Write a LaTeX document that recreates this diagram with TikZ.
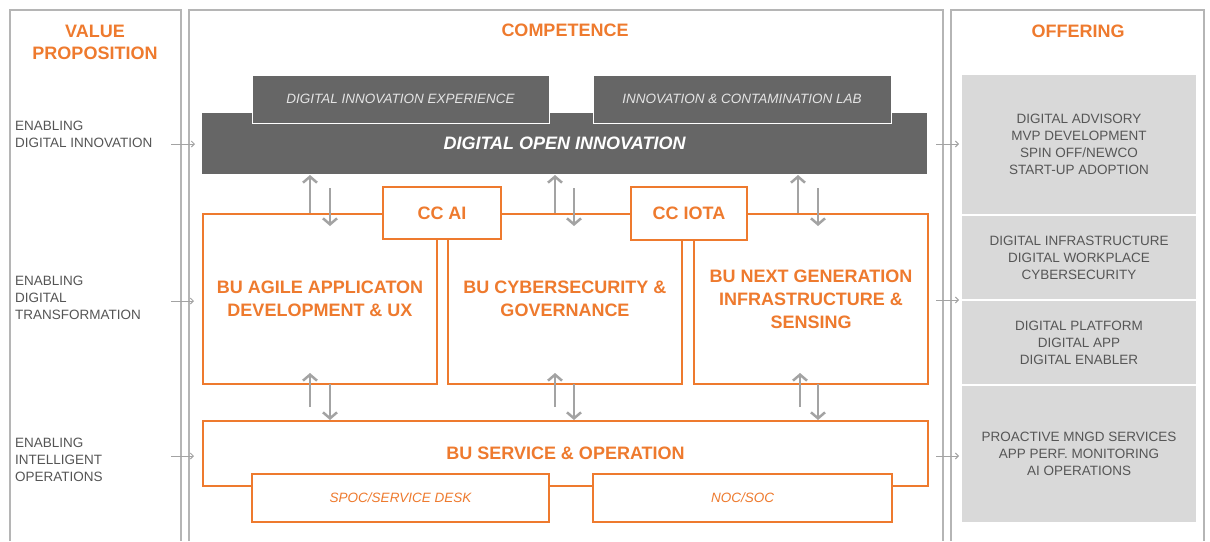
\documentclass[tikz,border=0pt]{standalone}
\usepackage{fontspec}
\setmainfont{Liberation Sans}
\usetikzlibrary{arrows.meta}
\definecolor{orng}{HTML}{EE7A2E}
\definecolor{panelgray}{HTML}{B5B5B5}
\definecolor{dkbox}{HTML}{666666}
\definecolor{dktxt}{HTML}{E4E4E4}
\definecolor{lbltxt}{HTML}{555555}
\definecolor{offfill}{HTML}{D9D9D9}
\definecolor{offtxt}{HTML}{565656}
\definecolor{arrgray}{HTML}{A3A3A3}
\tikzset{
  panel/.style={draw=panelgray, line width=1.2pt},
  ttl/.style={text=orng, font=\fontsize{18}{22}\selectfont\bfseries, align=center},
  lbl/.style={text=lbltxt, font=\fontsize{13.5}{17}\selectfont, align=left, anchor=west, inner sep=0pt},
  darkbox/.style={fill=dkbox, draw=white, line width=1pt, inner sep=0pt, text=dktxt, font=\fontsize{13.5}{16}\selectfont\itshape},
  bubox/.style={draw=orng, line width=2pt, fill=white, inner sep=0pt, text=orng, font=\fontsize{18}{23}\selectfont\bfseries, align=center},
  subbox/.style={draw=orng, line width=1.1pt, fill=white, inner sep=0pt, text=orng, font=\fontsize{13.5}{16}\selectfont\itshape},
  offer/.style={fill=offfill, inner sep=0pt, text=offtxt, font=\fontsize{13.5}{17}\selectfont, align=center, minimum width=234pt},
  varr/.style={draw=arrgray, line width=2.5pt, -{Straight Barb[length=6pt,width=14pt]}},
  harr/.style={draw=arrgray, line width=1pt, -{Straight Barb[length=3pt,width=6pt]}}
}
\begin{document}
\begin{tikzpicture}[x=1pt,y=-1pt]
\useasboundingbox (0,0) rectangle (1210,541);

% panels
\draw[panel] (10,541) -- (10,10) -- (181,10) -- (181,541);
\draw[panel] (189,541) -- (189,10) -- (943,10) -- (943,541);
\draw[panel] (951,541) -- (951,10) -- (1204,10) -- (1204,541);

% titles
\node[ttl] (tvp) at (95,42) {VALUE\\PROPOSITION};
\node[ttl] (tcomp) at (565,30) {COMPETENCE};
\node[ttl] (toff) at (1078,31) {OFFERING};

% left labels
\node[lbl] (l1) at (15,134.5) {ENABLING\\DIGITAL INNOVATION};
\node[lbl] (l2) at (15,298) {ENABLING\\DIGITAL\\TRANSFORMATION};
\node[lbl] (l3) at (15,460) {ENABLING\\INTELLIGENT\\OPERATIONS};

% dark boxes
\node[darkbox, draw=none, minimum width=725pt, minimum height=61pt, text=white,
      font=\fontsize{18}{22}\selectfont\bfseries\itshape] (doi) at (564.5,143.5) {DIGITAL OPEN INNOVATION};
\node[darkbox, minimum width=297pt, minimum height=48pt] (die) at (400.5,99) {DIGITAL INNOVATION EXPERIENCE};
\node[darkbox, minimum width=298pt, minimum height=48pt] (icl) at (742,99) {INNOVATION \& CONTAMINATION LAB};

% BU boxes
\node[bubox, minimum width=234pt, minimum height=170pt] (agile) at (320,299) {BU AGILE APPLICATON\\DEVELOPMENT \& UX};
\node[bubox, minimum width=234pt, minimum height=170pt] (cyber) at (565,299) {BU CYBERSECURITY \&\\GOVERNANCE};
\node[bubox, minimum width=234pt, minimum height=170pt] (nextgen) at (811,299) {BU NEXT GENERATION\\INFRASTRUCTURE \&\\SENSING};
\node[bubox, minimum width=118pt, minimum height=52pt] (ccai) at (442,213) {CC AI};
\node[bubox, minimum width=116pt, minimum height=53pt] (cciota) at (689,213.5) {CC IOTA};

\node[bubox, minimum width=725pt, minimum height=65pt] (service) at (565.5,453.5) {BU SERVICE \& OPERATION};
\node[subbox, minimum width=297pt, minimum height=48pt] (spoc) at (400.5,498) {SPOC/SERVICE DESK};
\node[subbox, minimum width=299pt, minimum height=48pt] (noc) at (742.5,498) {NOC/SOC};

% offering boxes
\node[offer, minimum height=139pt] (o1) at (1079,144.5) {DIGITAL ADVISORY\\MVP DEVELOPMENT\\SPIN OFF/NEWCO\\START-UP ADOPTION};
\node[offer, minimum height=83pt] (o2) at (1079,257.5) {DIGITAL INFRASTRUCTURE\\DIGITAL WORKPLACE\\CYBERSECURITY};
\node[offer, minimum height=83pt] (o3) at (1079,342.5) {DIGITAL PLATFORM\\DIGITAL APP\\DIGITAL ENABLER};
\node[offer, minimum height=136pt] (o4) at (1079,454) {PROACTIVE MNGD SERVICES\\APP PERF. MONITORING\\AI OPERATIONS};

% horizontal arrows
\coordinate (h1a) at (171,144); \coordinate (h1b) at (195,144);
\coordinate (h2a) at (171,301); \coordinate (h2b) at (194,301);
\coordinate (h3a) at (171,456); \coordinate (h3b) at (194,456);
\coordinate (r1a) at (936,144); \coordinate (r1b) at (959,144);
\coordinate (r2a) at (936,300); \coordinate (r2b) at (959,300);
\coordinate (r3a) at (936,456); \coordinate (r3b) at (959,456);
\draw[harr] (h1a) -- (h1b);
\draw[harr] (h2a) -- (h2b);
\draw[harr] (h3a) -- (h3b);
\draw[harr] (r1a) -- (r1b);
\draw[harr] (r2a) -- (r2b);
\draw[harr] (r3a) -- (r3b);

% vertical arrows, top row
\foreach \u/\d [count=\i] in {310/330, 555/574, 798/818}{
  \coordinate (tu\i a) at (\u,213); \coordinate (tu\i b) at (\u,175);
  \coordinate (td\i a) at (\d,188); \coordinate (td\i b) at (\d,226);
  \draw[varr] (tu\i a) -- (tu\i b);
  \draw[varr] (td\i a) -- (td\i b);
}
% vertical arrows, bottom row
\foreach \u/\d [count=\i] in {310/330, 555/574, 800/818}{
  \coordinate (bu\i a) at (\u,407); \coordinate (bu\i b) at (\u,373);
  \coordinate (bd\i a) at (\d,384); \coordinate (bd\i b) at (\d,420);
  \draw[varr] (bu\i a) -- (bu\i b);
  \draw[varr] (bd\i a) -- (bd\i b);
}
\end{tikzpicture}
\end{document}
